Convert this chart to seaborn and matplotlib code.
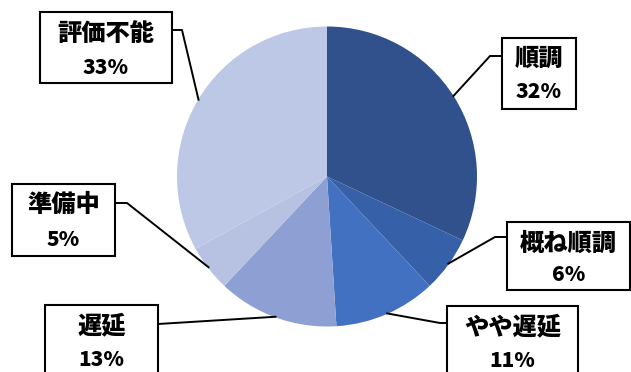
import numpy as np
import matplotlib
matplotlib.use("Agg")
import matplotlib.pyplot as plt
import seaborn as sns
from matplotlib.patches import Rectangle

sns.set_theme(style="white")
plt.rcParams['font.family'] = ['Noto Sans CJK JP', 'DejaVu Sans']

# ---- data ----
categories = ["順調", "概ね順調", "やや遅延", "遅延", "準備中", "評価不能"]
values = [32, 6, 11, 13, 5, 33]
pct_labels = ["32%", "6%", "11%", "13%", "5%", "33%"]

# ---- style ----
colors = ["#30518C", "#3661A8", "#4371C1", "#8D9FD3", "#B7C2E3", "#BDC8E6"]

W, H = 631, 372
cx, cy, R = 327, 176.5, 150

# box layout in pixel coords: (x0, y0, x1, y1), elbow point, name y, pct y
layout = {
    "順調":   dict(box=(502, 38, 576, 109), elbow=(490, 56), ny=59, py=92),
    "概ね順調": dict(box=(507, 222, 630, 290), elbow=(495, 237), ny=244, py=275),
    "やや遅延": dict(box=(447, 306, 578, 385), elbow=(440, 323), ny=327, py=361),
    "遅延":   dict(box=(45, 305, 158, 385), elbow=(158, 324), ny=326, py=360),
    "準備中":  dict(box=(12, 184, 115, 256), elbow=(127, 203), ny=205, py=240),
    "評価不能": dict(box=(40, 12, 172, 83), elbow=(182, 30), ny=34, py=68),
}

fig = plt.figure(figsize=(W / 100, H / 100), dpi=100)
ax = fig.add_axes([0, 0, 1, 1])

def Y(y):
    return H - y

wedges, _ = ax.pie(values, colors=colors, startangle=90, counterclock=False,
                   center=(cx, Y(cy)), radius=R,
                   wedgeprops=dict(linewidth=0, antialiased=True))
ax.set_xlim(0, W)
ax.set_ylim(0, H)
ax.set_aspect("equal")
ax.axis("off")

for w, cat, pct in zip(wedges, categories, pct_labels):
    L = layout[cat]
    x0, y0, x1, y1 = L["box"]
    ang = np.deg2rad((w.theta1 + w.theta2) / 2)
    px = cx + (R - 1) * np.cos(ang)
    py = cy - (R - 1) * np.sin(ang)
    ex, ey = L["elbow"]
    if ex >= x1:
        bx = x1
    elif ex <= x0:
        bx = x0
    else:
        bx = ex
    ax.plot([bx, ex, px], [Y(ey), Y(ey), Y(py)], color="black", lw=1.4,
            solid_capstyle="butt", zorder=3)
    ax.add_patch(Rectangle((x0, Y(y1)), x1 - x0, y1 - y0, facecolor="white",
                           edgecolor="black", lw=1.5, zorder=4))
    xc = (x0 + x1) / 2
    ax.text(xc, Y(L["ny"]), cat, ha="center", va="center", fontsize=17.5,
            fontweight="heavy", color="black", zorder=5)
    ax.text(xc, Y(L["py"]), pct, ha="center", va="center", fontsize=15,
            fontweight="heavy", color="black", zorder=5)

fig.savefig("out.png", dpi=100, facecolor="white")
